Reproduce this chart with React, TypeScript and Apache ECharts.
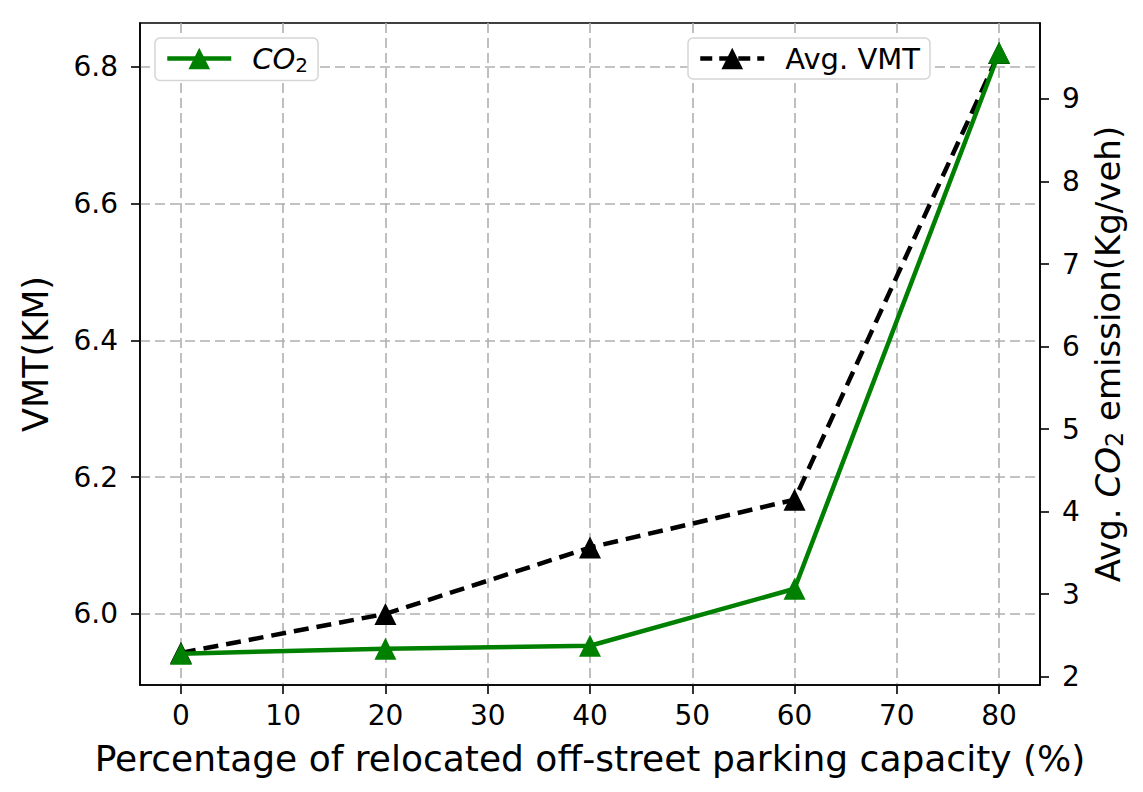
import React, { useEffect, useRef } from 'react';
import * as echarts from 'echarts';

const xValues = [0, 20, 40, 60, 80];
const vmtValues = [5.943, 6.0, 6.097, 6.167, 6.82];
const co2Values = [2.28, 2.34, 2.375, 3.066, 9.56];
const xTicks = [0, 10, 20, 30, 40, 50, 60, 70, 80];
const vmtTicks = [6.0, 6.2, 6.4, 6.6, 6.8];
const co2Ticks = [2, 3, 4, 5, 6, 7, 8, 9];

const FONT = 'DejaVu Sans';

export default function App() {
  const ref = useRef<HTMLDivElement>(null);
  useEffect(() => {
    if (!ref.current) return;
    const chart = echarts.init(ref.current, undefined, { renderer: 'svg' });
    const axisLineStyle = { color: '#000', width: 1.6 };
    const gridLine = { show: true, lineStyle: { color: '#b0b0b0', type: [10, 5], width: 1.6 } };
    const option: any = {
      animation: false,
      backgroundColor: '#fff',
      textStyle: { fontFamily: FONT },
      grid: { left: 140, right: 103, top: 23, bottom: 107, show: true, borderColor: '#000', borderWidth: 1.6, backgroundColor: 'transparent' },
      legend: [
        {
          data: ['CO2'],
          left: 155, top: 38,
          itemWidth: 64, itemHeight: 27, itemGap: 10,
          padding: [6, 10, 6, 10],
          backgroundColor: '#fff',
          borderColor: '#d5d5d5', borderWidth: 1.5, borderRadius: 5,
          lineStyle: { width: 4.5 },
          formatter: () => '{i|CO}{s|2}',
          textStyle: {
            fontFamily: FONT, color: '#000', fontSize: 29, padding: [0, 0, 0, 16],
            rich: {
              i: { fontFamily: FONT, fontStyle: 'italic', fontSize: 29, color: '#000' },
              s: { fontFamily: FONT, fontSize: 20, color: '#000', padding: [12, 0, 0, 0] },
            },
          },
        },
        {
          data: ['Avg. VMT'],
          left: 688, top: 38,
          itemWidth: 64, itemHeight: 27,
          padding: [6, 10, 6, 10],
          backgroundColor: '#fff',
          borderColor: '#d5d5d5', borderWidth: 1.5, borderRadius: 5,
          lineStyle: { width: 4.5, type: [12, 7] },
          textStyle: { fontFamily: FONT, color: '#000', fontSize: 29, padding: [0, 0, 0, 16] },
        },
      ],
      xAxis: {
        type: 'value', min: -4, max: 84,
        name: 'Percentage of relocated off-street parking capacity (%)',
        nameLocation: 'middle', nameGap: 55,
        nameTextStyle: { fontFamily: FONT, fontSize: 36, color: '#000' },
        axisLine: { show: true, onZero: false, lineStyle: axisLineStyle },
        axisTick: { show: true, customValues: xTicks, length: 9, lineStyle: axisLineStyle },
        axisLabel: { customValues: xTicks, fontFamily: FONT, fontSize: 28, color: '#000', margin: 16 },
        splitLine: gridLine,
      },
      yAxis: [
        {
          type: 'value', min: 5.896, max: 6.864, position: 'left',
          name: 'VMT(KM)', nameLocation: 'middle', nameGap: 87, nameRotate: 90,
          nameTextStyle: { fontFamily: FONT, fontSize: 35, color: '#000' },
          axisLine: { show: true, onZero: false, lineStyle: axisLineStyle },
          axisTick: { show: true, customValues: vmtTicks, length: 9, lineStyle: axisLineStyle },
          axisLabel: { customValues: vmtTicks, fontFamily: FONT, fontSize: 28, color: '#000', margin: 22, formatter: (v: number) => v.toFixed(1) },
          splitLine: gridLine,
        },
        {
          type: 'value', min: 1.90, max: 9.92, position: 'right',
          name: '{n|Avg. }{i|CO}{s|2}{n| emission(Kg/veh)}', nameLocation: 'middle', nameGap: 47, nameRotate: 90,
          nameTextStyle: {
            fontFamily: FONT, fontSize: 34, color: '#000',
            rich: {
              n: { fontFamily: FONT, fontSize: 34, color: '#000' },
              i: { fontFamily: FONT, fontSize: 34, color: '#000', fontStyle: 'italic' },
              s: { fontFamily: FONT, fontSize: 24, color: '#000', padding: [14, 0, 0, 0] },
            },
          },
          axisLine: { show: true, onZero: false, lineStyle: axisLineStyle },
          axisTick: { show: true, customValues: co2Ticks, length: 9, lineStyle: axisLineStyle },
          axisLabel: { customValues: co2Ticks, fontFamily: FONT, fontSize: 28, color: '#000', margin: 22 },
          splitLine: { show: false },
        },
      ],
      series: [
        {
          name: 'Avg. VMT', type: 'line', yAxisIndex: 0,
          data: xValues.map((x, i) => [x, vmtValues[i]]),
          symbol: 'triangle', symbolSize: 22,
          lineStyle: { color: '#000', width: 4.5, type: [15, 8] },
          itemStyle: { color: '#000' },
          z: 3,
        },
        {
          name: 'CO2', type: 'line', yAxisIndex: 1,
          data: xValues.map((x, i) => [x, co2Values[i]]),
          symbol: 'triangle', symbolSize: 22,
          lineStyle: { color: '#008000', width: 4.5 },
          itemStyle: { color: '#008000' },
          z: 4,
        },
      ],
    };
    chart.setOption(option);
    return () => chart.dispose();
  }, []);
  return (
    <div style={{ position: 'fixed', left: 0, top: 0, width: 1143, height: 792, background: '#fff' }}>
      <div style={{ position: 'absolute', left: 4, top: 2, width: 1139, height: 786, borderLeft: '1px solid #ddd', borderTop: '1px solid #ddd', borderBottom: '1px solid #ddd' }} />
      <div ref={ref} style={{ position: 'absolute', left: 0, top: 0, width: 1143, height: 792 }} />
    </div>
  );
}
